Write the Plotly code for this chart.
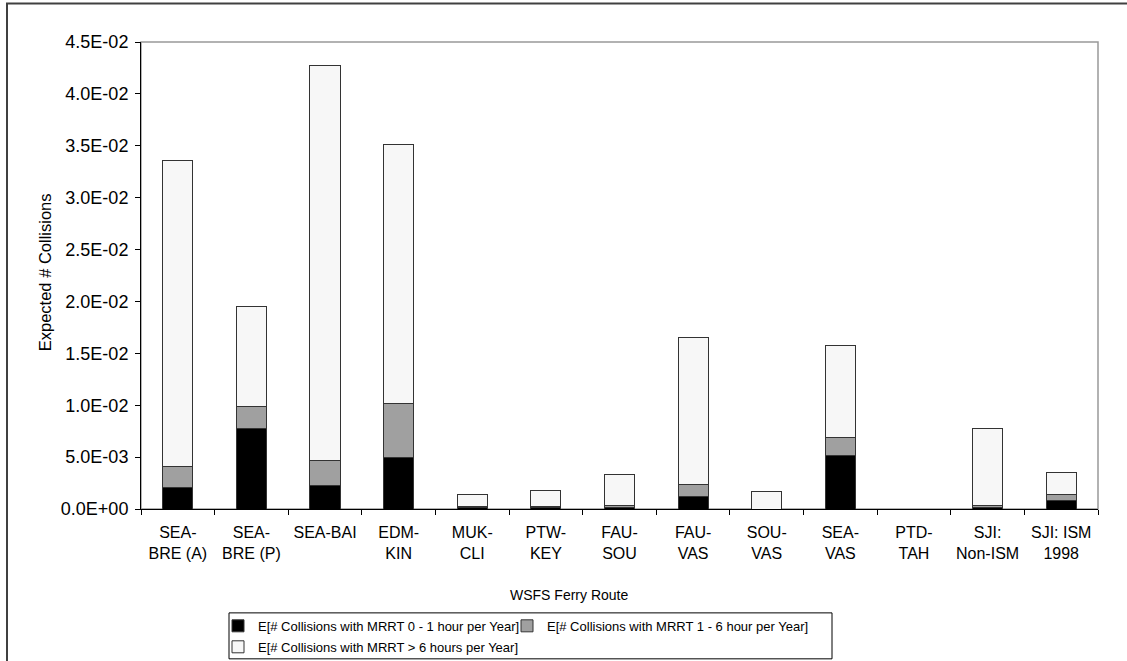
import plotly.graph_objects as go

routes = ["SEA-<br>BRE (A)", "SEA-<br>BRE (P)", "SEA-BAI", "EDM-<br>KIN", "MUK-<br>CLI",
          "PTW-<br>KEY", "FAU-<br>SOU", "FAU-<br>VAS", "SOU-<br>VAS", "SEA-<br>VAS",
          "PTD-<br>TAH", "SJI:<br>Non-ISM", "SJI: ISM<br>1998"]

mrrt_0_1 = [0.0021, 0.0078, 0.0023, 0.0050, 0.0001, 0.0001, 0.0001, 0.0012, 0.0, 0.0052, 0.0, 0.0001, 0.0008]
mrrt_1_6 = [0.0020, 0.0021, 0.0024, 0.0052, 0.0001, 0.0001, 0.0002, 0.0012, 0.0, 0.0017, 0.0, 0.0002, 0.0006]
mrrt_6p = [0.0295, 0.0096, 0.0380, 0.0249, 0.00115, 0.0016, 0.0030, 0.0141, 0.0017, 0.0089, 0.0, 0.0075, 0.0021]

series_names = ["E[# Collisions with MRRT 0 - 1 hour per Year]",
                "E[# Collisions with MRRT 1 - 6 hour per Year]",
                "E[# Collisions with MRRT > 6 hours per Year]"]
series_colors = ["#000000", "#a0a0a0", "#f7f7f7"]
series_legends = ["legend", "legend2", "legend3"]

y_tickvals = [0, 0.005, 0.01, 0.015, 0.02, 0.025, 0.03, 0.035, 0.04, 0.045]
y_ticktext = ["0.0E+00", "5.0E-03", "1.0E-02", "1.5E-02", "2.0E-02", "2.5E-02",
              "3.0E-02", "3.5E-02", "4.0E-02", "4.5E-02"]

FONT = "Liberation Sans, Arial, sans-serif"

fig = go.Figure()
for name, vals, col, lg in zip(series_names, [mrrt_0_1, mrrt_1_6, mrrt_6p], series_colors, series_legends):
    fig.add_trace(go.Bar(x=routes, y=vals, name=name, marker_color=col,
                         marker_line_color="#333333", marker_line_width=1, legend=lg))

W, H = 1127, 661
L, R, T, B = 141, 29, 41.5, 152
pw, ph = W - L - R, H - T - B

def px_x(p):
    return (p - L) / pw

def px_y(p):
    return (H - B - p) / ph

legend_common = dict(orientation="h", xanchor="left", yanchor="middle",
                     borderwidth=0, font=dict(size=13), bgcolor="rgba(0,0,0,0)")

fig.update_layout(
    width=W, height=H,
    margin=dict(l=L, r=R, t=T, b=B, pad=0, autoexpand=False),
    barmode="stack", bargap=0.59,
    paper_bgcolor="white", plot_bgcolor="white",
    font=dict(family=FONT, size=14, color="black"),
    showlegend=True,
    legend=dict(x=px_x(218), y=px_y(626), **legend_common),
    legend2=dict(x=px_x(507), y=px_y(626), **legend_common),
    legend3=dict(x=px_x(218), y=px_y(647), **legend_common),
    xaxis=dict(type="category", tickson="boundaries", ticks="outside", ticklen=5,
               tickcolor="black", showline=True, linecolor="black", linewidth=1,
               showgrid=False, tickfont=dict(size=16), ticklabelstandoff=9,
               fixedrange=True),
    yaxis=dict(range=[0, 0.045], tickvals=y_tickvals, ticktext=y_ticktext,
               ticks="outside", ticklen=5, tickcolor="black", showline=True,
               linecolor="black", linewidth=1, showgrid=False, zeroline=False,
               tickfont=dict(size=18), ticklabelstandoff=3, fixedrange=True),
    annotations=[
        dict(text="WSFS Ferry Route", xref="paper", yref="paper",
             x=px_x(569), y=px_y(595), xanchor="center", yanchor="middle",
             showarrow=False, font=dict(size=14)),
        dict(text="Expected # Collisions", xref="paper", yref="paper", textangle=-90,
             x=px_x(45), y=px_y(272), xanchor="center", yanchor="middle",
             showarrow=False, font=dict(size=16.5)),
    ],
    shapes=[
        dict(type="rect", xref="paper", yref="paper", x0=0, x1=1, y0=0, y1=1,
             line=dict(color="#999999", width=1.5), layer="below"),
        dict(type="rect", xref="paper", yref="paper", x0=px_x(7), x1=px_x(1131),
             y0=px_y(668), y1=px_y(3), line=dict(color="#404040", width=2), layer="below"),
        dict(type="rect", xref="paper", yref="paper", x0=px_x(229), x1=px_x(832),
             y0=px_y(659), y1=px_y(613), line=dict(color="black", width=1), layer="below"),
    ],
)

fig.write_html("out.html")
